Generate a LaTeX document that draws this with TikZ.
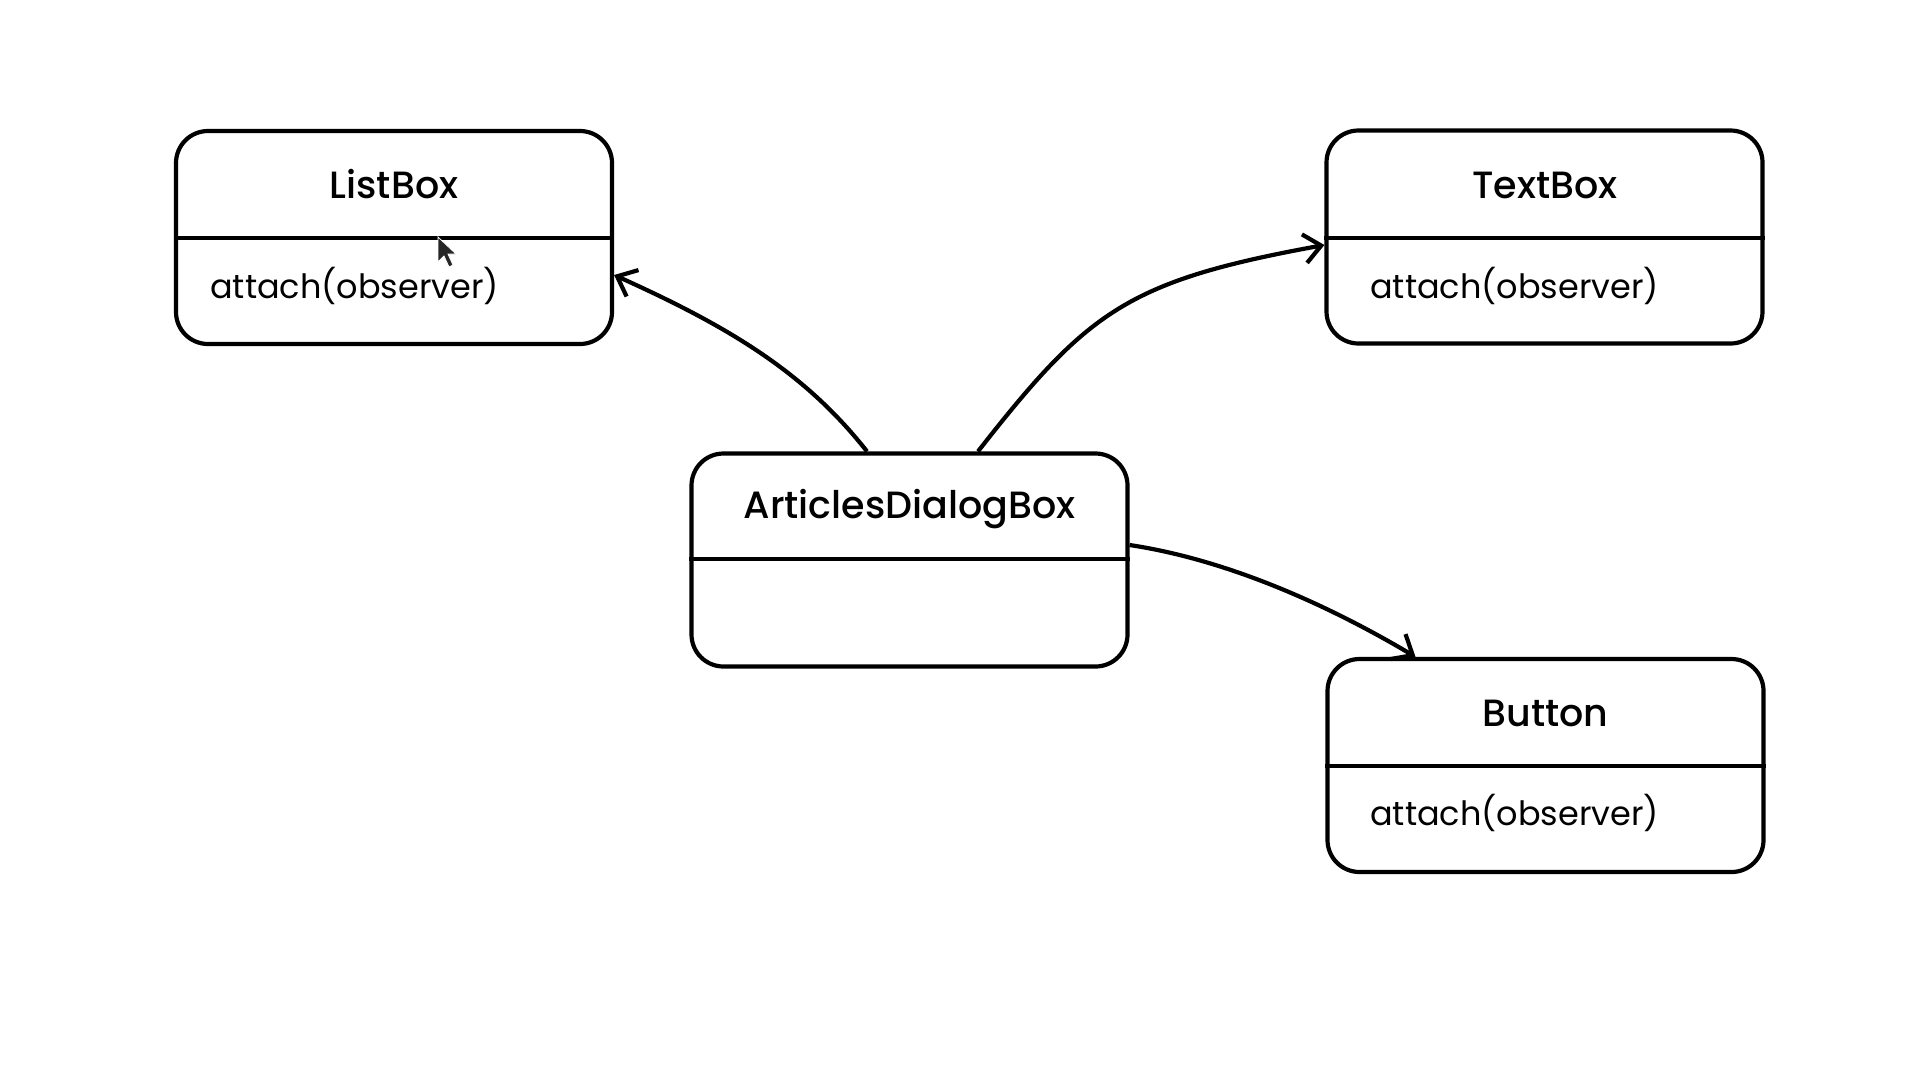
\documentclass[tikz,border=0pt]{standalone}
\usepackage{fontspec}
\setmainfont{Poppins}
\newfontfamily\titlefont{Poppins Medium}
\usetikzlibrary{arrows.meta,calc}
\begin{document}
\begin{tikzpicture}[x=1pt,y=-1pt,
  cls/.style={draw, line width=4.2pt, rounded corners=32pt, inner sep=0pt,
              minimum width=436pt, minimum height=213pt},
  rule/.style={line width=4.2pt},
  conn/.style={line width=4.2pt, -{Straight Barb[length=17pt,width=29pt]}},
  title/.style={font=\titlefont\fontsize{38}{42}\selectfont, anchor=base, inner sep=0pt},
  member/.style={font=\fontsize{33.5}{37}\selectfont, anchor=base west, inner sep=0pt}]
\useasboundingbox (0,0) rectangle (1920,1080);

% class boxes
\node[cls] (listbox) at (394,237.5) {};
\node[cls] (textbox) at (1544.5,237) {};
\node[cls] (adb) at (909.5,560) {};
\node[cls] (button) at (1545.5,765.5) {};

% compartment dividers
\draw[rule] (listbox.west |- 0,238) -- (listbox.east |- 0,238);
\draw[rule] (textbox.west |- 0,238) -- (textbox.east |- 0,238);
\draw[rule] (adb.west |- 0,559) -- (adb.east |- 0,559);
\draw[rule] (button.west |- 0,766) -- (button.east |- 0,766);

% class names
\node[title] (listboxname) at (394,198) {ListBox};
\node[title] (textboxname) at (1545,198) {TextBox};
\node[title] (adbname) at (909.5,518) {ArticlesDialogBox};
\node[title] (buttonname) at (1545.5,726) {Button};

% operations
\node[member] (listboxop) at (210,298) {attach(observer)};
\node[member] (textboxop) at (1370,298) {attach(observer)};
\node[member] (buttonop) at (1370,825) {attach(observer)};

% associations
\draw[conn] ($(adb.north)+(-42.5,0)$) .. controls (806,374) and (732,328) .. ($(listbox.east)+(0,37.5)$);
\draw[conn] ($(adb.north)+(68.5,0)$) .. controls (1088,311) and (1127,281) .. ($(textbox.west)+(0,8)$);
\draw[conn] ($(adb.east)+(0,-15)$) .. controls (1229,560) and (1330,606) .. ($(button.north)+(-130,0)$);

% mouse pointer
\filldraw[fill=black!85, draw=white, line width=0.8pt]
  (438,237) -- (438,262) -- (444,256) -- (449,267) -- (453,265) -- (448,254) -- (456,254) -- cycle;
\end{tikzpicture}
\end{document}
